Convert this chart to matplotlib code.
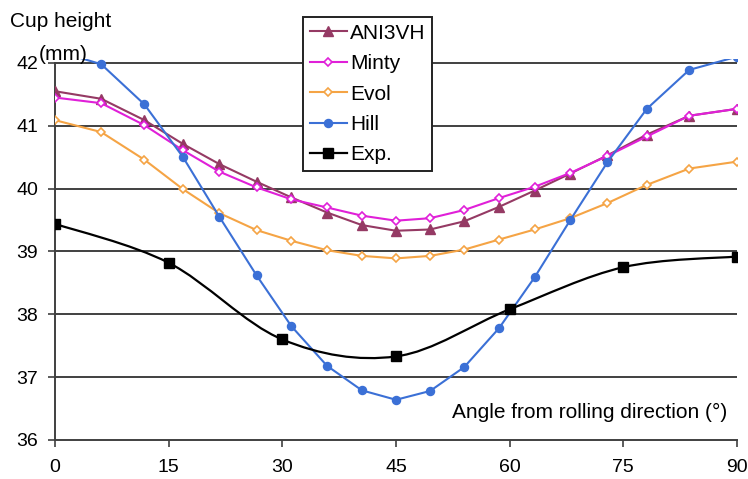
import matplotlib
matplotlib.use("Agg")
import matplotlib.pyplot as plt
from matplotlib.path import Path
from matplotlib.patches import PathPatch
from matplotlib.lines import Line2D

plt.rcParams['font.family'] = ['Liberation Sans', 'DejaVu Sans']

# ---- data ----
angles = [0, 6.1, 11.8, 16.9, 21.7, 26.6, 31.2, 35.9, 40.5, 45, 49.5, 54.0,
          58.6, 63.3, 68.0, 72.9, 78.1, 83.7, 90]
ani3vh = [41.55, 41.43, 41.09, 40.71, 40.39, 40.11, 39.86, 39.62, 39.42, 39.33,
          39.35, 39.48, 39.71, 39.97, 40.24, 40.53, 40.86, 41.16, 41.27]
minty = [41.45, 41.36, 41.01, 40.61, 40.27, 40.02, 39.83, 39.70, 39.57, 39.49,
         39.53, 39.66, 39.85, 40.03, 40.25, 40.52, 40.83, 41.16, 41.27]
evol = [41.09, 40.90, 40.46, 39.99, 39.61, 39.34, 39.17, 39.02, 38.93, 38.89,
        38.93, 39.03, 39.19, 39.35, 39.53, 39.77, 40.06, 40.32, 40.43]
hill = [42.2, 41.98, 41.34, 40.50, 39.55, 38.62, 37.81, 37.18, 36.79, 36.64,
        36.78, 37.16, 37.78, 38.59, 39.50, 40.42, 41.27, 41.89, 42.1]
exp_angles = [0, 15, 30, 45, 60, 75, 90]
exp_vals = [39.44, 38.82, 37.60, 37.33, 38.08, 38.75, 38.92]
xticks = [0, 15, 30, 45, 60, 75, 90]
yticks = [36, 37, 38, 39, 40, 41, 42]

c_ani = '#953A64'
c_minty = '#E020D8'
c_evol = '#F5A445'
c_hill = '#3B70D6'
c_exp = '#000000'
grid_c = '#404040'

W, H = 748, 479
fig = plt.figure(figsize=(W / 100, H / 100), dpi=100)
ax = fig.add_axes([55 / W, 1 - 440 / H, (737 - 55) / W, (440 - 59.2) / H])
ax.set_xlim(0, 90)
ax.set_ylim(36, 42.06)

for y in yticks[1:]:
    ax.axhline(y, color=grid_c, lw=1.4, zorder=1)

ax.plot(angles, ani3vh, color=c_ani, lw=1.5, marker='^', ms=6.5, mfc=c_ani, mec=c_ani, zorder=3)
ax.plot(angles, minty, color=c_minty, lw=1.5, marker='D', ms=4.3, mfc='white', mec=c_minty, mew=1.2, zorder=3)
ax.plot(angles, evol, color=c_evol, lw=1.5, marker='D', ms=4.3, mfc='white', mec=c_evol, mew=1.2, zorder=3)
ax.plot(angles, hill, color=c_hill, lw=1.5, marker='o', ms=5.8, mfc=c_hill, mec=c_hill, zorder=3)

# Exp: smoothed (Catmull-Rom / Bezier) line through the data points
verts = [(exp_angles[0], exp_vals[0])]
codes = [Path.MOVETO]
n = len(exp_angles)
for i in range(n - 1):
    p0 = (exp_angles[max(i - 1, 0)], exp_vals[max(i - 1, 0)])
    p1 = (exp_angles[i], exp_vals[i])
    p2 = (exp_angles[i + 1], exp_vals[i + 1])
    p3 = (exp_angles[min(i + 2, n - 1)], exp_vals[min(i + 2, n - 1)])
    c1 = (p1[0] + (p2[0] - p0[0]) / 6, p1[1] + (p2[1] - p0[1]) / 6)
    c2 = (p2[0] - (p3[0] - p1[0]) / 6, p2[1] - (p3[1] - p1[1]) / 6)
    verts += [c1, c2, p2]
    codes += [Path.CURVE4, Path.CURVE4, Path.CURVE4]
ax.add_patch(PathPatch(Path(verts, codes), fill=False, edgecolor=c_exp, lw=1.6, zorder=4))
ax.plot(exp_angles, exp_vals, ls='none', marker='s', ms=6.5, color=c_exp, zorder=5)

ax.spines['top'].set_visible(False)
ax.spines['right'].set_visible(False)
for s in ('left', 'bottom'):
    ax.spines[s].set_color(grid_c)
    ax.spines[s].set_linewidth(1.4)
ax.spines['left'].set_bounds(36, 42)

ax.set_xticks(xticks)
ax.set_yticks(yticks)
ax.tick_params(axis='both', direction='out', length=5, width=1.2, color=grid_c,
               labelsize=14, labelcolor='black')
ax.tick_params(axis='x', pad=9)
ax.tick_params(axis='y', pad=7)

handles = [
    Line2D([], [], color=c_ani, lw=1.5, marker='^', ms=6.5, mfc=c_ani, mec=c_ani),
    Line2D([], [], color=c_minty, lw=1.5, marker='D', ms=4.3, mfc='white', mec=c_minty, mew=1.2),
    Line2D([], [], color=c_evol, lw=1.5, marker='D', ms=4.3, mfc='white', mec=c_evol, mew=1.2),
    Line2D([], [], color=c_hill, lw=1.5, marker='o', ms=5.8, mfc=c_hill, mec=c_hill),
    Line2D([], [], color=c_exp, lw=1.6, marker='s', ms=6.5),
]
leg = ax.legend(handles, ['ANI3VH', 'Minty', 'Evol', 'Hill', 'Exp.'],
                loc='upper left', bbox_to_anchor=(303 / W, 1 - 17 / H),
                bbox_transform=fig.transFigure, borderaxespad=0,
                fontsize=15, frameon=True, fancybox=False, shadow=False,
                framealpha=1, edgecolor='#222222', borderpad=0.32,
                labelspacing=0.55, handlelength=1.8, handletextpad=0.15)
leg.get_frame().set_linewidth(1.4)
leg.set_zorder(10)

fig.text(10 / W, 1 - 27 / H, 'Cup height', fontsize=15, va='baseline', ha='left')
fig.text(39 / W, 1 - 60 / H, '(mm)', fontsize=15, va='baseline', ha='left')
fig.text(727 / W, 1 - 418 / H, 'Angle from rolling direction (°)', fontsize=15,
         va='baseline', ha='right')

fig.savefig('out.png', dpi=100)
